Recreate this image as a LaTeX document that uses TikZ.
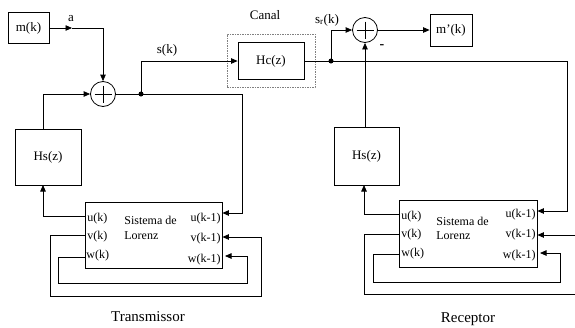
\documentclass[tikz,border=0pt]{standalone}
\usepackage{fontspec}
\setmainfont{Liberation Serif}
\usetikzlibrary{arrows.meta,calc}
\begin{document}
\begin{tikzpicture}[x=1pt,y=-1pt,
  line width=0.8pt,
  arr/.style={-{Triangle[length=6.5pt,width=5.5pt]}},
  blk/.style={draw,rectangle,inner sep=0pt,font=\fontsize{13}{15}\selectfont},
  sumc/.style={draw,circle,minimum size=25pt,inner sep=0pt},
  lbl/.style={font=\fontsize{13}{15}\selectfont,inner sep=0pt},
  lz/.style={font=\fontsize{12}{14}\selectfont,inner sep=0pt},
  big/.style={font=\fontsize{15}{17}\selectfont,inner sep=0pt},
  dotn/.style={circle,fill,minimum size=5pt,inner sep=0pt}]
\useasboundingbox (0,0) rectangle (575,327);
% ---------- Transmitter ----------
\node[blk,minimum width=41pt,minimum height=31pt] (mk) at (28.5,28) {m(k)};
\node[sumc] (s1) at (103,94) {};
\draw (s1.center)++(-8.5,0) -- ++(17,0);
\draw (s1.center)++(0,-8.5) -- ++(0,17);
\node[blk,minimum width=66pt,minimum height=56pt] (hs1) at (48,157) {Hs(z)};
\node[draw,rectangle,minimum width=137pt,minimum height=66pt,inner sep=0pt] (lor1) at (153.5,235) {};
\node[dotn] (d1) at (141,94) {};
\node[draw=gray,dashed,dash pattern=on 1.5pt off 1pt,rectangle,minimum width=88pt,minimum height=53pt,inner sep=0pt] (canal) at (271,60.5) {};
\node[blk,minimum width=66pt,minimum height=37pt] (hc) at (271,61) {Hc(z)};
\node[lbl] (canaltxt) at (265,15) {Canal};
\node[lbl] (alab) at (71,19) {a};
\node[lbl] (sklab) at (167,50) {s(k)};

\coordinate (a1) at (72,28);
\draw[arr] (mk.east |- a1) -- (a1);
\draw[arr] (a1) -- (s1.north |- a1) -- (s1.north);
\draw[arr] (43,129) -- (43,94) -- (s1.west);
\draw (s1.east) -- (d1.center);
\draw[arr] (d1.center) -- (141,61) -- (hc.west);
\draw[arr] (d1.center) -- (242,94) -- (242,213) -- (lor1.east |- 0,213);
\draw[arr] (lor1.west |- 0,216) -- (43,216) -- (43,185);
\draw[arr] (lor1.west |- 0,235) -- (50,235) -- (50,296) -- (261,296) -- (261,237) -- (lor1.east |- 0,237);
\draw[arr] (lor1.west |- 0,257) -- (58,257) -- (58,283) -- (247,283) -- (247,256) -- (225,256);

\node[lz,anchor=west] (u1) at (87,219) {u(k)};
\node[lz,anchor=west] (v1) at (87,237) {v(k)};
\node[lz,anchor=west] (w1) at (86,256) {w(k)};
\node[lz,anchor=west] (sis1) at (124,220) {Sistema de};
\node[lz,anchor=west] (lo1) at (124,236) {Lorenz};
\node[lz,anchor=east] (uk1) at (221,219) {u(k-1)};
\node[lz,anchor=east] (vk1) at (221,239) {v(k-1)};
\node[lz,anchor=east] (wk1) at (221,260) {w(k-1)};
\node[big] (tx) at (148,317) {Transmissor};

% ---------- Receiver ----------
\node[dotn] (d2) at (331,61) {};
\node[sumc] (s2) at (365,30) {};
\draw (s2.center)++(-8.5,0) -- ++(17,0);
\draw (s2.center)++(0,-8.5) -- ++(0,17);
\node[blk,minimum width=42pt,minimum height=32pt] (mp) at (451,30) {m’(k)};
\node[blk,minimum width=65pt,minimum height=58pt] (hs2) at (366.5,156) {Hs(z)};
\node[draw,rectangle,minimum width=138pt,minimum height=67pt,inner sep=0pt] (lor2) at (468,233.5) {};
\node[lbl] (srlab) at (327,20) {s\textsubscript{r}(k)};
\node[font=\fontsize{14}{16}\selectfont\bfseries,inner sep=0pt] (minus) at (382,47) {-};

\draw (hc.east) -- (d2.center);
\draw[arr] (d2.center) -- (331,30) -- (s2.west);
\draw[arr] (s2.east) -- (mp.west);
\draw[arr] (d2.center) -- (567,61) -- (567,211) -- (lor2.east |- 0,211);
\draw[arr] (s2.south |- hs2.north) -- (s2.south);
\draw[arr] (lor2.west |- 0,214) -- (364,214) -- (364,185);
\draw (lor2.west |- 0,234) -- (364,234) -- (364,294) -- (575,294);
\draw[arr] (575,235) -- (lor2.east |- 0,235);
\draw[arr] (lor2.west |- 0,254) -- (373,254) -- (373,282) -- (560,282) -- (560,253) -- (540,253);

\node[lz,anchor=west] (u2) at (401,217) {u(k)};
\node[lz,anchor=west] (v2) at (401,235) {v(k)};
\node[lz,anchor=west] (w2) at (401,254) {w(k)};
\node[lz,anchor=west] (sis2) at (436,221) {Sistema de};
\node[lz,anchor=west] (lo2) at (436,236) {Lorenz};
\node[lz,anchor=east] (uk2) at (536,215) {u(k-1)};
\node[lz,anchor=east] (vk2) at (536,235) {v(k-1)};
\node[lz,anchor=east] (wk2) at (536,256) {w(k-1)};
\node[big] (rx) at (468,319) {Receptor};
\end{tikzpicture}
\end{document}
